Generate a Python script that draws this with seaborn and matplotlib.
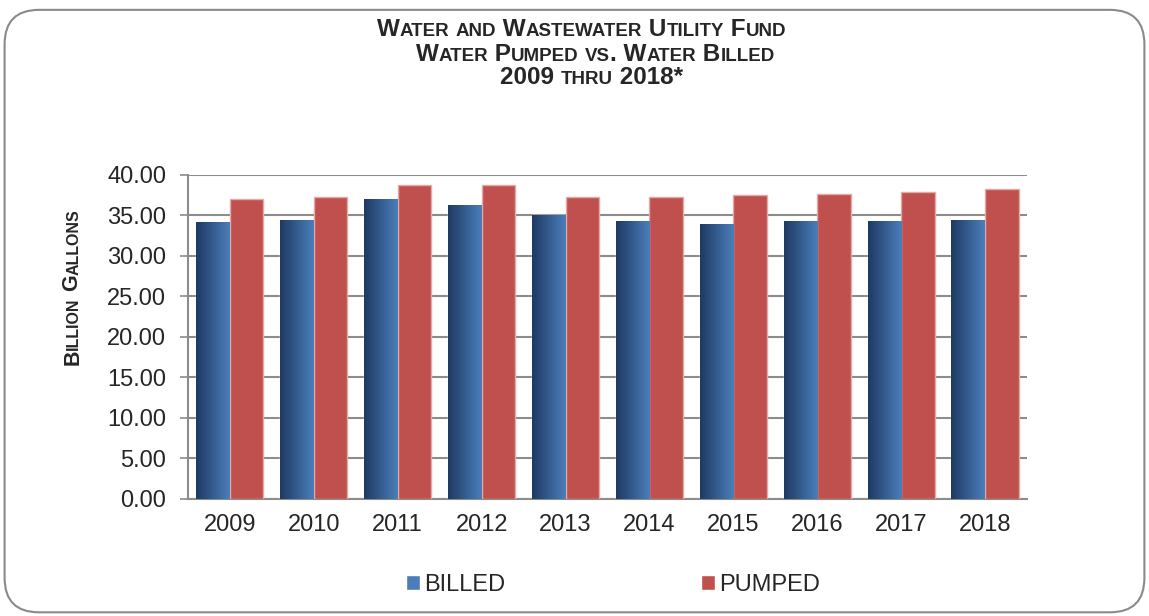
import numpy as np
import pandas as pd
import matplotlib
matplotlib.use("Agg")
import matplotlib.pyplot as plt
import seaborn as sns
from matplotlib.patches import FancyBboxPatch, Patch
from matplotlib.colors import LinearSegmentedColormap

# values (billion gallons)
years = ["2009", "2010", "2011", "2012", "2013", "2014", "2015", "2016", "2017", "2018"]
billed = [34.17, 34.42, 37.02, 36.32, 35.08, 34.29, 33.96, 34.29, 34.29, 34.42]
pumped = [36.98, 37.31, 38.80, 38.76, 37.31, 37.27, 37.48, 37.64, 37.89, 38.30]
series_names = ["BILLED", "PUMPED"]
y_ticks = [0, 5, 10, 15, 20, 25, 30, 35, 40]

BLUE_DARK = "#1F3A63"
BLUE_LIGHT = "#4A7EBB"
RED = "#C0504D"
GRID = "#8C8C8C"


def small_caps(fig, x, y, text, big, small, rotation=0):
    # fake small caps: capitals at big size, lowercase letters upper-cased at small size
    renderer = fig.canvas.get_renderer()
    pieces = []
    for ch in text:
        size = small if ch.islower() else big
        if pieces and pieces[-1][1] == size:
            pieces[-1][0] += ch.upper()
        else:
            pieces.append([ch.upper(), size])
    widths = []
    for s, size in pieces:
        t = fig.text(0, 0, s, fontsize=size, fontweight="bold", family="Liberation Sans")
        widths.append(t.get_window_extent(renderer).width)
        t.remove()
    total = sum(widths)
    W, H = fig.bbox.width, fig.bbox.height
    if rotation == 0:
        pos = x * W - total / 2
        for (s, size), w in zip(pieces, widths):
            fig.text(pos / W, y, s, fontsize=size, fontweight="bold",
                     family="Liberation Sans", ha="left", va="baseline")
            pos += w
    else:
        pos = y * H - total / 2
        for (s, size), w in zip(pieces, widths):
            fig.text(x, pos / H, s, fontsize=size, fontweight="bold", rotation=90,
                     rotation_mode="anchor", family="Liberation Sans",
                     ha="left", va="baseline")
            pos += w


sns.set_theme(style="white")
plt.rcParams["font.family"] = ["Liberation Sans", "DejaVu Sans"]

df = pd.DataFrame({
    "year": years * 2,
    "value": billed + pumped,
    "series": [series_names[0]] * len(years) + [series_names[1]] * len(years),
})

fig = plt.figure(figsize=(11.49, 6.16), dpi=100)
ax = fig.add_axes([0.1636, 0.19, 0.7302, 0.526])

sns.barplot(data=df, x="year", y="value", hue="series", palette=[BLUE_LIGHT, RED],
            width=0.8, gap=0, saturation=1, ax=ax, legend=False, zorder=3)

# gradient fill for the billed bars, light edge on the pumped bars
cmap = LinearSegmentedColormap.from_list("billed", [BLUE_DARK, BLUE_LIGHT])
grad = np.linspace(0, 1, 64).reshape(1, -1)
for bar in ax.containers[0]:
    x0, y0 = bar.get_x(), bar.get_y()
    w, h = bar.get_width(), bar.get_height()
    im = ax.imshow(grad, cmap=cmap, aspect="auto", extent=[x0, x0 + w, y0, y0 + h],
                   zorder=3.5, interpolation="bicubic")
    im.set_clip_path(bar)
for bar in ax.containers[1]:
    bar.set_edgecolor("#E3AAA8")
    bar.set_linewidth(1.0)

ax.set_xlim(-0.5, len(years) - 0.5)
ax.set_ylim(0, 40)
ax.set_yticks(y_ticks)
ax.set_yticklabels([f"{v:.2f}" for v in y_ticks], fontsize=17)
ax.tick_params(axis="x", labelsize=17, length=0, pad=11)
ax.set_xticks(np.arange(-0.5, len(years), 1), minor=True)
ax.tick_params(axis="x", which="minor", length=6, width=1.2, color=GRID, direction="out")
ax.tick_params(axis="y", length=5.8, width=1.2, color=GRID, direction="out", left=True, pad=10)
ax.yaxis.grid(True, color=GRID, linewidth=1.5, zorder=0)
ax.set_axisbelow(True)
ax.set_xlabel("")
ax.set_ylabel("")
for side in ["top", "right"]:
    ax.spines[side].set_visible(False)
for side in ["left", "bottom"]:
    ax.spines[side].set_color(GRID)
    ax.spines[side].set_linewidth(1.5)

handles = [Patch(facecolor=BLUE_LIGHT), Patch(facecolor=RED)]
fig.legend(handles, series_names, loc="center", bbox_to_anchor=(0.5335, 0.05), ncol=2,
           frameon=False, fontsize=17, handlelength=0.6, handleheight=0.6,
           handletextpad=0.15, columnspacing=8.3)

# title and axis label in small caps
small_caps(fig, 0.506, 0.9416, "Water and Wastewater Utility Fund", 17.5, 13.5)
small_caps(fig, 0.518, 0.901, "Water Pumped vs. Water Billed", 17.5, 13.5)
small_caps(fig, 0.515, 0.864, "2009 thru 2018*", 17.5, 13.5)
small_caps(fig, 0.068, 0.534, "Billion Gallons", 15.5, 11.5, rotation=90)

border = FancyBboxPatch((0.004, 0.006), 0.992, 0.978, boxstyle="round,pad=0,rounding_size=0.03",
                        transform=fig.transFigure, facecolor="none", edgecolor="#8A8A8A",
                        linewidth=1.5, mutation_aspect=1149 / 616)
fig.patches.append(border)

fig.savefig("out.png", dpi=100)
